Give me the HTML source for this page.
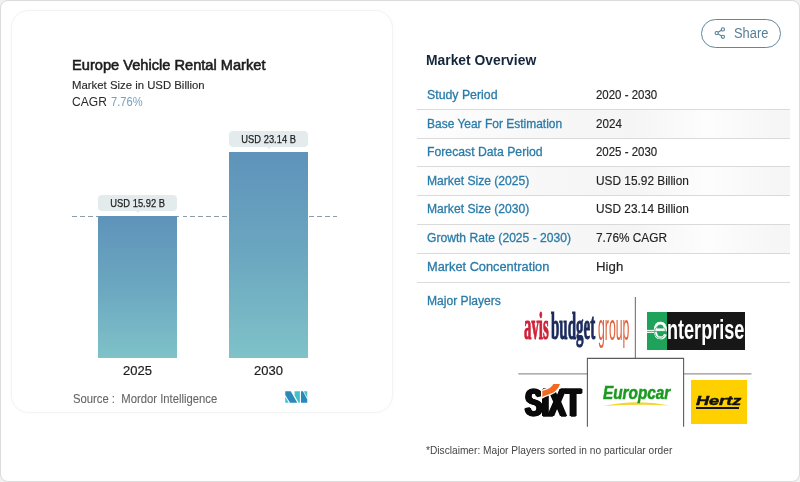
<!DOCTYPE html>
<html lang="en">
<head>
<meta charset="utf-8">
<title>Europe Vehicle Rental Market</title>
<style>
*{box-sizing:border-box;margin:0;padding:0}
html,body{width:800px;height:482px;background:#f1f1f1;overflow:hidden}
body{font-family:"Liberation Sans",sans-serif;color:#222;position:relative}
.abs{position:absolute;white-space:nowrap;line-height:1}
#frame{position:absolute;left:0;top:0;width:800px;height:482px;border:1px solid #dbdbdb;border-radius:8px;background:#fff}
#chart{position:absolute;left:10.5px;top:10px;width:382px;height:403px;border-radius:18px;background:#fff;border:1px solid #f3f3f3;box-shadow:0 0 4px rgba(0,0,0,.025)}
.title{left:71.8px;top:56.8px;font-size:15px;font-weight:400;-webkit-text-stroke:.6px #1d1d1d;color:#1d1d1d;transform-origin:0 0;transform:scaleX(.975)}
.sub{left:71.8px;top:79.2px;font-size:11.6px;color:#2a2a2a;-webkit-text-stroke:.15px #2a2a2a;transform-origin:0 0;transform:scaleX(.98)}
.cagr{left:71.8px;top:96.3px;font-size:12.5px;color:#2a2a2a;transform-origin:0 0;transform:scaleX(.965)}
.cagr2{left:110.8px;top:96.3px;font-size:12.5px;color:#74a2c0;transform-origin:0 0;transform:scaleX(.89)}
.bar{position:absolute;background:linear-gradient(180deg,#5f93ba 0%,#6ba7c0 50%,#7fc2c8 100%)}
.pill{position:absolute;background:#e4ebed;border-radius:4px;font-size:10.5px;color:#222;text-align:center;line-height:16px;height:16px}
.pill span{display:inline-block;transform:scaleX(.89);-webkit-text-stroke:.25px #222}
.pill:after{content:"";position:absolute;left:50%;margin-left:-3px;top:15px;border:3px solid transparent;border-top-color:#e4ebed}
.dash{position:absolute;left:71.5px;top:216px;width:265px;height:1.2px;background:repeating-linear-gradient(90deg,#8b9dab 0,#8b9dab 4.8px,transparent 4.8px,transparent 7.9px)}
.xl{font-size:13px;color:#1d1d1d;-webkit-text-stroke:.2px #1d1d1d}
.src{font-size:12px;color:#666;-webkit-text-stroke:.1px #666;transform-origin:0 0;transform:scaleX(.94)}
#share{position:absolute;left:701px;top:19px;width:79.5px;height:28.5px;border:1.4px solid #64889b;border-radius:14.5px;background:#fff}
#share span{position:absolute;left:32px;top:6px;font-size:14px;line-height:1;color:#557f96;transform-origin:0 0;transform:scaleX(.92)}
.h{left:426.4px;top:53.1px;font-size:14px;font-weight:700;color:#14263b;transform-origin:0 0;transform:scaleX(.99)}
.row{position:absolute;left:417px;width:373px;border-bottom:1px solid #dadada}
.row.alt{background:linear-gradient(90deg,#fefefe 0%,#f7f7f7 35%,#f5f5f5 58%,#fdfdfd 78%,#f6f6f6 96%)}
.k{left:426.7px;font-size:12.5px;color:#2a7ba8;transform-origin:0 0;-webkit-text-stroke:.3px #2a7ba8}
.v{left:596.2px;font-size:12.5px;color:#222;transform-origin:0 0;-webkit-text-stroke:.15px #222}
.mp{left:426.7px;top:294.75px;font-size:12.5px;color:#2a7ba8;transform-origin:0 0;transform:scaleX(.967);-webkit-text-stroke:.3px #2a7ba8}
.disc{left:426px;top:445px;font-size:11px;color:#444;transform-origin:0 0;transform:scaleX(.924)}

.lg{position:absolute;white-space:nowrap;line-height:1;transform-origin:0 0}
.av{font-family:"Liberation Serif",serif;font-weight:700;font-size:38.5px;-webkit-text-stroke:1.1px currentColor}
#av1{left:524px;top:306.8px;color:#cf2139;transform:scaleX(.385)}
#av2{left:551px;top:306.8px;color:#1b2a5c;transform:scaleX(.39)}
#av3{left:598px;top:309.5px;color:#e0613c;font-family:"Liberation Sans",sans-serif;font-weight:400;font-size:36.6px;-webkit-text-stroke:0;transform:scaleX(.335)}
#ent{position:absolute;left:647.3px;top:312px;width:97.8px;height:38.2px;background:#171717;overflow:hidden}
#ent i{position:absolute;left:0;top:0;width:19.7px;height:100%;background:#1fa35a}
#ent b{position:absolute;left:19.4px;top:3.6px;font-size:27.6px;line-height:1;color:#fff;font-weight:700;transform-origin:0 0;transform:scaleX(.655);white-space:nowrap}
#ent svg{position:absolute;left:0;top:0}
#ent em{position:absolute;left:5.6px;top:0.8px;font-size:31.5px;line-height:1;font-style:normal;font-weight:400;color:#fff;transform-origin:0 0;transform:scaleX(.84);-webkit-text-stroke:.7px #fff}
#sixt{left:524.6px;top:383.1px;font-size:39.3px;font-weight:700;color:#0a0a0a;transform:scaleX(.665);letter-spacing:-1px;-webkit-text-stroke:1.5px #0a0a0a;text-shadow:1.5px 0 0 #0a0a0a,-1.5px 0 0 #0a0a0a,2.4px 0 0 #0a0a0a,-2.4px 0 0 #0a0a0a}
#hz{position:absolute;left:691px;top:380px;width:56px;height:44px;background:#ffd000}
#hz b{position:absolute;left:5.3px;top:14.4px;font-size:13.2px;line-height:1;font-style:italic;font-weight:700;color:#111;transform-origin:0 0;transform:scaleX(1.37);white-space:nowrap;-webkit-text-stroke:.45px #111}
#hz u{position:absolute;left:5px;top:27px;width:43px;height:2px;background:#111}
#ec{left:603px;top:383.8px;font-size:18.6px;font-weight:700;font-style:italic;color:#1a9a20;transform:scaleX(.825);-webkit-text-stroke:.5px #1a9a20}
</style>
</head>
<body>
<div id="frame"></div>
<div id="chart"></div>
<div class="abs title">Europe Vehicle Rental Market</div>
<div class="abs sub">Market Size in USD Billion</div>
<div class="abs cagr">CAGR</div>
<div class="abs cagr2">7.76%</div>

<div class="dash"></div>
<div class="bar" style="left:98px;top:216px;width:79px;height:142px"></div>
<div class="bar" style="left:229px;top:152px;width:79px;height:206px"></div>
<div class="pill" style="left:98px;top:195px;width:79px"><span>USD 15.92 B</span></div>
<div class="pill" style="left:229px;top:131px;width:79px"><span>USD 23.14 B</span></div>
<div class="abs xl" style="left:123px;top:364px">2025</div>
<div class="abs xl" style="left:254px;top:364px">2030</div>
<div class="abs src" style="left:73px;top:393px">Source :&nbsp; Mordor Intelligence</div>
<svg class="abs" style="left:284.5px;top:390.5px" width="23" height="12" viewBox="0 0 23 12">
<polygon points="0.25,0.25 5.75,0.25 12.25,11.75 5,11.75 0.25,4" fill="#2a88ba"/>
<polygon points="0.25,5.75 3.75,11.75 0.25,11.75" fill="#41c2cb"/>
<polygon points="9.6,0.25 14.9,0.25 14.9,11.75 13.6,11.75 9.6,4.6" fill="#41c2cb"/>
<polygon points="16,0.25 18,0.25 22.25,8.4 22.25,11.75 16,11.75" fill="#2a88ba"/>
<polygon points="18.8,0.25 22.25,0.25 22.25,7" fill="#41c2cb"/>
</svg>

<div id="share"><svg style="position:absolute;left:12px;top:7px" width="13" height="13" viewBox="0 0 13 13" fill="none" stroke="#557f96" stroke-width="1.1"><circle cx="8.9" cy="2.4" r="1.6"/><circle cx="2.7" cy="6.1" r="1.6"/><circle cx="8.9" cy="9.8" r="1.6"/><path d="M4.1 5.3 7.5 3.2M4.1 6.9 7.5 9"/></svg><span>Share</span></div>
<div class="abs h">Market Overview</div>
<div class="row" style="top:81px;height:29px"></div>
<div class="abs k" style="top:88.5px;transform:scaleX(0.985)">Study Period</div><div class="abs v" style="top:88.5px;transform:scaleX(0.917)">2020 - 2030</div>
<div class="row alt" style="top:110px;height:29px"></div>
<div class="abs k" style="top:117.5px;transform:scaleX(0.958)">Base Year For Estimation</div><div class="abs v" style="top:117.5px;transform:scaleX(0.93)">2024</div>
<div class="row" style="top:139px;height:28px"></div>
<div class="abs k" style="top:146.25px;transform:scaleX(0.978)">Forecast Data Period</div><div class="abs v" style="top:146.25px;transform:scaleX(0.917)">2025 - 2030</div>
<div class="row alt" style="top:167px;height:29px"></div>
<div class="abs k" style="top:174.5px;transform:scaleX(0.969)">Market Size (2025)</div><div class="abs v" style="top:174.5px;transform:scaleX(0.948)">USD 15.92 Billion</div>
<div class="row" style="top:196px;height:29px"></div>
<div class="abs k" style="top:203.25px;transform:scaleX(0.969)">Market Size (2030)</div><div class="abs v" style="top:203.25px;transform:scaleX(0.948)">USD 23.14 Billion</div>
<div class="row alt" style="top:225px;height:29px"></div>
<div class="abs k" style="top:232px;transform:scaleX(0.969)">Growth Rate (2025 - 2030)</div><div class="abs v" style="top:232px;transform:scaleX(0.946)">7.76% CAGR</div>
<div class="row" style="top:254px;height:29px"></div>
<div class="abs k" style="top:260.75px;transform:scaleX(1.023)">Market Concentration</div><div class="abs v" style="top:260.75px;transform:scaleX(1.06)">High</div>
<div class="abs mp">Major Players</div>
<svg class="abs" style="left:510px;top:290px" width="250" height="145" viewBox="510 290 250 145" fill="none">
<path d="M635.4 297V358.4" stroke="#808080" stroke-width="1.2"/>
<path d="M518.3 373.9H587.4M683.6 373.9H751.5" stroke="#959595" stroke-width="1.4"/>
<path d="M587.4 426.8V358.4H683.6V426.8" stroke="#5c5c5c" stroke-width="1.1"/>
</svg>
<div class="lg av" id="av1">avis</div><div class="lg av" id="av2">budget</div><div class="lg av" id="av3">group</div>
<div id="ent"><i></i><em>e</em><svg width="24" height="38" viewBox="0 0 24 38" fill="none"><path d="M0 19.4H8" stroke="#fff" stroke-width="3"/><path d="M0 19.4H18.6" stroke="#1fa35a" stroke-width=".8"/><path d="M18.6 19.4A5.5 6.3 0 1 0 17.6 23.6" stroke="#1fa35a" stroke-width=".7"/></svg><b>nterprise</b></div>
<div class="lg" id="sixt">SIXT</div>
<svg class="abs" style="left:540px;top:382px" width="22" height="18" viewBox="0 0 22 18"><path d="M2.3 15 L2.3 8.8 C6 8 11 6.5 13.4 2 L19.9 2 C18.5 7 15 10 11 11.6 C7.5 12.9 5 13.6 2.3 15Z" fill="#f26a21" stroke="#fff" stroke-width="2.6" paint-order="stroke"/></svg>
<svg class="abs" style="left:600px;top:398px" width="74" height="10" viewBox="600 398 74 10"><path d="M603 406Q636 398.6 669.6 405.4Q636 404 603 406Z" fill="#f4d52f"/></svg>
<div class="lg" id="ec">Europcar</div>
<div id="hz"><b>Hertz</b><u></u></div>
<div class="abs disc">*Disclaimer: Major Players sorted in no particular order</div>
</body>
</html>
